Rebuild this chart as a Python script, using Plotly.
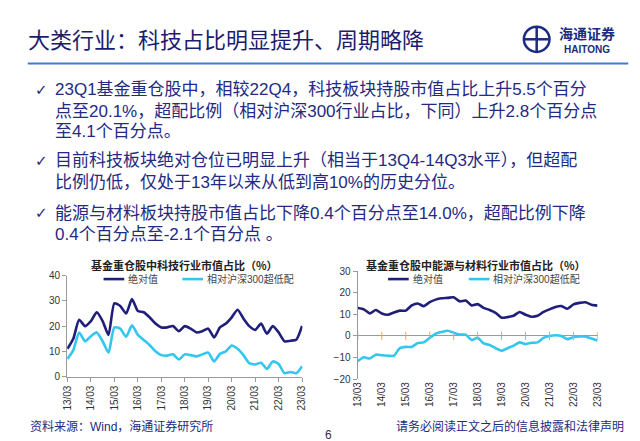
import plotly.graph_objects as go

W, H = 640, 441

quarters = list(range(41))
tick_pos = [0, 4, 8, 12, 16, 20, 24, 28, 32, 36, 40]
tick_labels = ["13/03", "14/03", "15/03", "16/03", "17/03", "18/03",
               "19/03", "20/03", "21/03", "22/03", "23/03"]

tech_abs = [11, 15, 22.5, 20, 22, 25.5, 22, 16.5, 29, 28, 25, 30.7, 26, 25.5,
            23.5, 21, 19.5, 19.5, 20, 18, 20, 19, 17.5, 18, 19, 15.5, 19.5,
            21, 23.5, 26.5, 23, 20, 18.5, 21, 17, 20, 17.5, 14, 14.2, 14.6, 20.1]
tech_rel = [7, 10.5, 17.5, 14, 16, 17.5, 14, 9.5, 19.5, 19, 15.8, 20.3, 16.5,
            14.5, 12.5, 10, 8.5, 8.3, 8.8, 6.8, 8.8, 8.5, 8, 8.8, 9.5, 6, 9,
            10, 12.3, 11, 8.5, 5.3, 4.8, 5.5, 3, 6, 5, 1.3, 1.8, 1.3, 4.1]

cyc_abs = [12.9, 12.3, 10.4, 12, 10.4, 9.8, 10.8, 11.7, 11.7, 14.1, 15, 13.8,
           15.6, 16.8, 17.4, 17.6, 17.9, 16, 16.4, 14.1, 14.7, 13, 12, 10.7,
           8.4, 8.7, 9.3, 11.1, 9.8, 8.9, 9.3, 11.1, 12.3, 13.4, 13.8, 12.6,
           14.6, 15.3, 15.6, 14.4, 14.0]
cyc_rel = [-11.7, -9.9, -10.5, -8.7, -9, -9.2, -9.2, -5.7, -5.1, -5.1, -3.3,
           -3, -0.9, 1, 1.8, 2.4, 1.5, 0.6, 0.6, -1.9, -0.9, -3.5, -4.2, -5.7,
           -6.9, -5.7, -4.5, -3, -3.8, -3.2, -3, -0.9, 0, 0.3, 0, -1.5, -0.6,
           -0.3, -0.3, -1.2, -2.1]

series_names = ["绝对值", "相对沪深300超低配"]
chart_titles = ["基金重仓股中科技行业市值占比（%）", "基金重仓股中能源与材料行业市值占比（%）"]

title_text = "大类行业：科技占比明显提升、周期略降"
bullets = [
    ["23Q1基金重仓股中，相较22Q4，科技板块持股市值占比上升5.5个百分",
     "点至20.1%，超配比例（相对沪深300行业占比，下同）上升2.8个百分点",
     "至4.1个百分点。"],
    ["目前科技板块绝对仓位已明显上升（相当于13Q4-14Q3水平），但超配",
     "比例仍低，仅处于13年以来从低到高10%的历史分位。"],
    ["能源与材料板块持股市值占比下降0.4个百分点至14.0%，超配比例下降",
     "0.4个百分点至-2.1个百分点 。"],
]
source_text = "资料来源：Wind，海通证券研究所"
disclaimer_text = "请务必阅读正文之后的信息披露和法律声明"
page_no = "6"

DARK = "#1f1f7a"
LIGHT = "#33c6ee"
NAVY = "#232a82"
AXIS = "#9a9a9a"
FONT = "Liberation Sans, Noto Sans CJK SC, sans-serif"
CJK = "Noto Sans CJK SC, sans-serif"


def px_x(p):
    return p / W


def px_y(p):
    return 1 - p / H


fig = go.Figure()
fig.add_trace(go.Scatter(x=quarters, y=tech_abs, mode="lines", name=series_names[0],
                         line=dict(color=DARK, width=2.6, shape="spline", smoothing=0.6),
                         xaxis="x", yaxis="y", showlegend=False))
fig.add_trace(go.Scatter(x=quarters, y=tech_rel, mode="lines", name=series_names[1],
                         line=dict(color=LIGHT, width=2.6, shape="spline", smoothing=0.6),
                         xaxis="x", yaxis="y", showlegend=False))
fig.add_trace(go.Scatter(x=quarters, y=cyc_abs, mode="lines", name=series_names[0],
                         line=dict(color=DARK, width=2.6, shape="spline", smoothing=0.6),
                         xaxis="x2", yaxis="y2", showlegend=False))
fig.add_trace(go.Scatter(x=quarters, y=cyc_rel, mode="lines", name=series_names[1],
                         line=dict(color=LIGHT, width=2.6, shape="spline", smoothing=0.6),
                         xaxis="x2", yaxis="y2", showlegend=False))
# tick marks on the zero line of the right chart
fig.add_trace(go.Scatter(x=tick_pos, y=[0] * len(tick_pos), mode="markers",
                         marker=dict(symbol="line-ns-open", size=6,
                                     line=dict(color=AXIS, width=1)),
                         xaxis="x2", yaxis="y2", showlegend=False, hoverinfo="skip"))

tickfont = dict(family=FONT, size=10, color="#333333")

fig.update_layout(
    width=W, height=H, margin=dict(l=0, r=0, t=0, b=0),
    paper_bgcolor="white", plot_bgcolor="white",
    xaxis=dict(domain=[px_x(55), px_x(294)], range=[-0.05, 40.05],
               tickvals=tick_pos, ticktext=tick_labels, tickangle=-90,
               ticks="outside", ticklen=4, tickcolor=AXIS, showline=True,
               linecolor=AXIS, showgrid=False, zeroline=False, tickfont=tickfont,
               anchor="y"),
    yaxis=dict(domain=[px_y(372.7), px_y(269)], range=[0, 40], dtick=10,
               ticks="outside", ticklen=4, tickcolor=AXIS, showline=True,
               linecolor=AXIS, showgrid=False, zeroline=False, tickfont=tickfont,
               anchor="x"),
    xaxis2=dict(domain=[px_x(350), px_x(594)], range=[-0.05, 40.05],
                tickvals=tick_pos, ticktext=tick_labels, tickangle=-90,
                ticks="", showline=False, showgrid=False, zeroline=False,
                tickfont=tickfont, anchor="y2"),
    yaxis2=dict(domain=[px_y(375.3), px_y(264.3)], range=[-20, 30], dtick=10,
                ticks="outside", ticklen=4, tickcolor=AXIS, showline=True,
                linecolor=AXIS, showgrid=False, zeroline=True, zerolinecolor=AXIS,
                zerolinewidth=1, tickfont=tickfont, anchor="x2"),
)

ann = []
shapes = []

# title
ann.append(dict(x=px_x(13), y=px_y(25), xref="paper", yref="paper", text=title_text,
                showarrow=False, xanchor="left", yanchor="middle",
                font=dict(family=CJK, size=22, color="#1c1c6e")))
shapes.append(dict(type="line", xref="paper", yref="paper", x0=px_x(15), x1=px_x(625),
                   y0=px_y(51), y1=px_y(51), line=dict(color="#3f7fcf", width=2)))

# logo
shapes.append(dict(type="circle", xref="paper", yref="paper",
                   x0=px_x(519), x1=px_x(545), y0=px_y(39), y1=px_y(13),
                   line=dict(color="#1c2a80", width=2.5)))
shapes.append(dict(type="line", xref="paper", yref="paper", x0=px_x(532), x1=px_x(532),
                   y0=px_y(14), y1=px_y(38), line=dict(color="#1c2a80", width=2.5)))
shapes.append(dict(type="line", xref="paper", yref="paper", x0=px_x(520), x1=px_x(544),
                   y0=px_y(26), y1=px_y(26), line=dict(color="#1c2a80", width=2.5)))
ann.append(dict(x=px_x(583), y=px_y(20), xref="paper", yref="paper", text="<b>海通证券</b>",
                showarrow=False, xanchor="center", yanchor="middle",
                font=dict(family=CJK, size=14, color="#1c2a80")))
ann.append(dict(x=px_x(583), y=px_y(36), xref="paper", yref="paper", text="<b>HAITONG</b>",
                showarrow=False, xanchor="center", yanchor="middle",
                font=dict(family="Liberation Sans", size=10, color="#1c2a80")))

# bullets
line_ys = [[78, 100, 121], [151, 173], [205, 227]]
for lines, ys in zip(bullets, line_ys):
    ann.append(dict(x=px_x(20), y=px_y(ys[0]), xref="paper", yref="paper", text="✓",
                    showarrow=False, xanchor="left", yanchor="middle",
                    font=dict(family="DejaVu Sans", size=15, color=NAVY)))
    for t, yy in zip(lines, ys):
        ann.append(dict(x=px_x(41), y=px_y(yy), xref="paper", yref="paper", text=t,
                        showarrow=False, xanchor="left", yanchor="middle",
                        font=dict(family=FONT, size=17, color=NAVY)))

# chart titles
for t, cx in zip(chart_titles, [174, 470]):
    ann.append(dict(x=px_x(cx), y=px_y(258), xref="paper", yref="paper",
                    text="<b>" + t + "</b>", showarrow=False, xanchor="center",
                    yanchor="middle", font=dict(family=CJK, size=11, color="#222222")))

# legends
leg_specs = [(92, 172, 272.5), (381, 463, 272.5)]
for (x1, x2, ly) in leg_specs:
    for xs, col, name in [(x1, DARK, series_names[0]), (x2, LIGHT, series_names[1])]:
        shapes.append(dict(type="line", xref="paper", yref="paper", x0=px_x(xs),
                           x1=px_x(xs + 21), y0=px_y(ly), y1=px_y(ly),
                           line=dict(color=col, width=2.6)))
        ann.append(dict(x=px_x(xs + 23), y=px_y(ly), xref="paper", yref="paper",
                        text=name, showarrow=False, xanchor="left", yanchor="middle",
                        font=dict(family=FONT, size=10, color="#444444")))

# footer
ann.append(dict(x=px_x(15), y=px_y(424), xref="paper", yref="paper", text=source_text,
                showarrow=False, xanchor="left", yanchor="middle",
                font=dict(family=FONT, size=12, color=NAVY)))
ann.append(dict(x=px_x(623), y=px_y(424), xref="paper", yref="paper", text=disclaimer_text,
                showarrow=False, xanchor="right", yanchor="middle",
                font=dict(family=FONT, size=12, color=NAVY)))
ann.append(dict(x=px_x(320), y=px_y(433), xref="paper", yref="paper", text=page_no,
                showarrow=False, xanchor="center", yanchor="middle",
                font=dict(family=FONT, size=12, color="#333333")))

fig.update_layout(annotations=ann, shapes=shapes)
fig.write_html("out.html")
